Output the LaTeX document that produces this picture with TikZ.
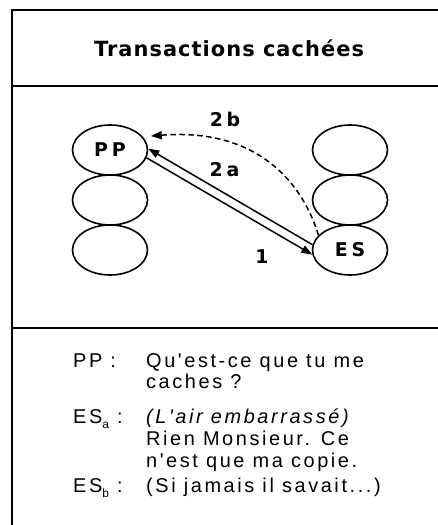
\documentclass[tikz,border=0pt]{standalone}
\usepackage{fontspec}
\setmainfont{Liberation Sans}
\newfontfamily\titlefont[LetterSpace=5]{DejaVu Sans}
\newfontfamily\nodefont[LetterSpace=20]{DejaVu Sans}
\newfontfamily\dialfont[LetterSpace=13]{Liberation Sans}
\usetikzlibrary{arrows.meta,calc,shapes.geometric}
\newcommand{\lowsub}[1]{\raisebox{-0.3em}{\fontsize{12}{12}\selectfont #1}}
\begin{document}
\begin{tikzpicture}[x=1bp,y=-1bp,
  frameline/.style={line width=2bp},
  oval/.style={draw, ellipse, minimum width=75bp, minimum height=50bp, line width=1.6bp, inner sep=0pt},
  bold/.style={font=\nodefont\bfseries\fontsize{19}{19}\selectfont},
  lbl/.style={font=\nodefont\bfseries\fontsize{19}{19}\selectfont, anchor=base, inner sep=0pt},
  txt/.style={font=\dialfont\fontsize{20}{22}\selectfont, anchor=base west, inner sep=0pt},
  arr/.style={line width=1.5bp, -{Triangle[length=11bp,width=8bp]}},
  dsh/.style={dash pattern=on 5.5bp off 3.5bp}
]
\path[use as bounding box] (0,0) rectangle (438,525);
% frame
\draw[frameline] (12,525) -- (12,10) -- (438,10);
\draw[frameline] (12,86) -- (438,86);
\draw[frameline] (12,328) -- (438,328);
% title
\node[font=\titlefont\bfseries\fontsize{21}{23}\selectfont, anchor=base, inner sep=0pt] (title) at (229,57) {Transactions cachées};
% ellipses
\node[oval,bold] (PP) at (110,150) {PP};
\node[oval] (L2) at (110,200) {};
\node[oval] (L3) at (110,250) {};
\node[oval] (R1) at (350,150) {};
\node[oval] (R2) at (350,200) {};
\node[oval,bold] (ES) at (350,250) {ES};
% arrows
\draw[arr] (PP.-12) -- (ES.187);
\draw[arr] (ES.172) -- (PP.2);
\coordinate (c1) at (300,175);
\coordinate (c2) at (250,128);
\draw[arr,dsh,shorten >=8bp] (ES.155) .. controls (c1) and (c2) .. (PP.22);
% labels
\node[lbl] (l2b) at (225,127) {2b};
\node[lbl] (l2a) at (224.5,177) {2a};
\node[lbl] (l1) at (262,263) {1};
% dialogue
\node[txt] (s1) at (73,367) {PP :};
\node[txt] (t1) at (146,367) {Qu'est-ce que tu me};
\node[txt] (t2) at (146,388) {caches ?};
\node[txt] (s2) at (73,423) {ES\lowsub{a} :};
\node[txt] (t3) at (146,423) {\itshape (L'air embarrassé)};
\node[txt] (t4) at (146,445) {Rien Monsieur. Ce};
\node[txt] (t5) at (146,467) {n'est que ma copie.};
\node[txt] (s3) at (73,492) {ES\lowsub{b} :};
\node[txt] (t6) at (146,492) {(Si jamais il savait...)};
\end{tikzpicture}
\end{document}
